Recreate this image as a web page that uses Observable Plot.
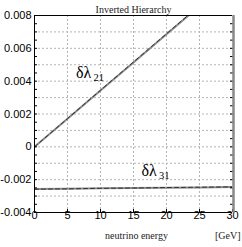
<!DOCTYPE html>
<html><head><meta charset="utf-8">
<script src="https://cdn.jsdelivr.net/npm/d3@7"></script>
<script src="https://cdn.jsdelivr.net/npm/@observablehq/plot@0.6"></script>
<style>body{margin:0;background:#fff}</style>
</head><body><div id="chart"></div>
<script>
const energy = [0, 5, 10, 15, 20, 25, 30];
const dl21Solid = [0, 0.00171, 0.00343, 0.00514, 0.00686, 0.00857, 0.01029];
const dl21Dashed = [0, 0.00172, 0.00345, 0.00517, 0.00689, 0.00861, 0.01033];
const dl31Solid = [-0.00257, -0.00255, -0.00253, -0.00251, -0.00249, -0.00247, -0.00245];
const dl31Dashed = [-0.00258, -0.00256, -0.00253, -0.00251, -0.00248, -0.00246, -0.00244];
const xTicks = [0, 5, 10, 15, 20, 25, 30];
const yTicks = [-0.004, -0.002, 0, 0.002, 0.004, 0.006, 0.008];
const yGrid = [-0.003, -0.002, -0.001, 0, 0.001, 0.002, 0.003, 0.004, 0.005, 0.006, 0.007];
const yMinor = [-0.0035, -0.003, -0.0025, -0.002, -0.0015, -0.001, -0.0005, 0, 0.0005, 0.001, 0.0015, 0.002, 0.0025, 0.003, 0.0035, 0.004, 0.0045, 0.005, 0.0055, 0.006, 0.0065, 0.007, 0.0075];
const title = "Inverted Hierarchy";
const xLabel = "neutrino energy";
const xUnit = "[GeV]";
const curveLabels = [
  {e: 6.3, v: 0.00449, t: "δλ", s: 16},
  {e: 8.95, v: 0.00420, t: "21", s: 10.5},
  {e: 16.2, v: -0.00148, t: "δλ", s: 16},
  {e: 18.85, v: -0.00176, t: "31", s: 10.5}
];

const toRows = (ys) => energy.map((e, i) => ({e, v: ys[i]}));
const serif = "Liberation Serif, DejaVu Serif, serif";
const sans = "Liberation Sans, Arial, sans-serif";

const chart = Plot.plot({
  width: 242, height: 247,
  marginLeft: 34, marginRight: 10, marginTop: 15, marginBottom: 35,
  style: {fontFamily: sans, fontSize: "11px", background: "#fff", overflow: "visible"},
  x: {type: "linear", domain: [0, 30]},
  y: {type: "linear", domain: [-0.004, 0.008]},
  marks: [
    Plot.ruleX(xTicks.slice(1, -1), {x: d => d, stroke: "#b4b4b4", strokeDasharray: "2,2", strokeWidth: 1}),
    Plot.ruleY(yGrid, {y: d => d, stroke: "#b4b4b4", strokeDasharray: "2,2", strokeWidth: 1}),
    Plot.line(toRows(dl21Solid), {x: "e", y: "v", stroke: "#8c8c8c", strokeWidth: 2, clip: true}),
    Plot.line(toRows(dl21Dashed), {x: "e", y: "v", stroke: "#333", strokeWidth: 1, strokeDasharray: "4,3", clip: true}),
    Plot.line(toRows(dl31Solid), {x: "e", y: "v", stroke: "#8c8c8c", strokeWidth: 2, clip: true}),
    Plot.line(toRows(dl31Dashed), {x: "e", y: "v", stroke: "#333", strokeWidth: 1, strokeDasharray: "4,3", clip: true}),
    Plot.axisY({ticks: yMinor, tickSize: -3, text: null, anchor: "left", stroke: "#000", label: null}),
    Plot.axisY({ticks: yMinor, tickSize: -3, text: null, anchor: "right", stroke: "#000", label: null}),
    Plot.axisY({ticks: yTicks, tickSize: 0, tickPadding: 3, anchor: "left", tickFormat: d => String(d), fill: "#000", label: null, fontSize: 11}),
    Plot.axisX({ticks: xTicks, tickSize: -3, tickPadding: 2, anchor: "bottom", label: null, fontSize: 11, fill: "#000"}),
    Plot.ruleX([30], {x: d => d, stroke: "#888", strokeWidth: 2.5, dx: 1}),
    Plot.ruleY([0.008], {y: d => d, stroke: "#000", strokeWidth: 1}),
    Plot.ruleX([0], {x: d => d, stroke: "#000", strokeWidth: 1}),
    Plot.ruleY([-0.004], {y: d => d, stroke: "#000", strokeWidth: 1}),
    Plot.text([title], {frameAnchor: "top", lineAnchor: "bottom", dy: -3, fontFamily: serif, fontSize: 10, fill: "#222"}),
    Plot.text([xLabel], {frameAnchor: "bottom", dx: 3, dy: 26, fontFamily: serif, fontSize: 10, fill: "#222"}),
    Plot.text([xUnit], {frameAnchor: "bottom-right", dx: 8, dy: 26, textAnchor: "end", fontFamily: serif, fontSize: 10, fill: "#222"}),
    Plot.text(curveLabels, {x: "e", y: "v", text: "t", fontSize: d => d.s, fontFamily: serif, textAnchor: "start", fill: "#000"})
  ]
});
document.getElementById("chart").append(chart);
</script></body></html>
